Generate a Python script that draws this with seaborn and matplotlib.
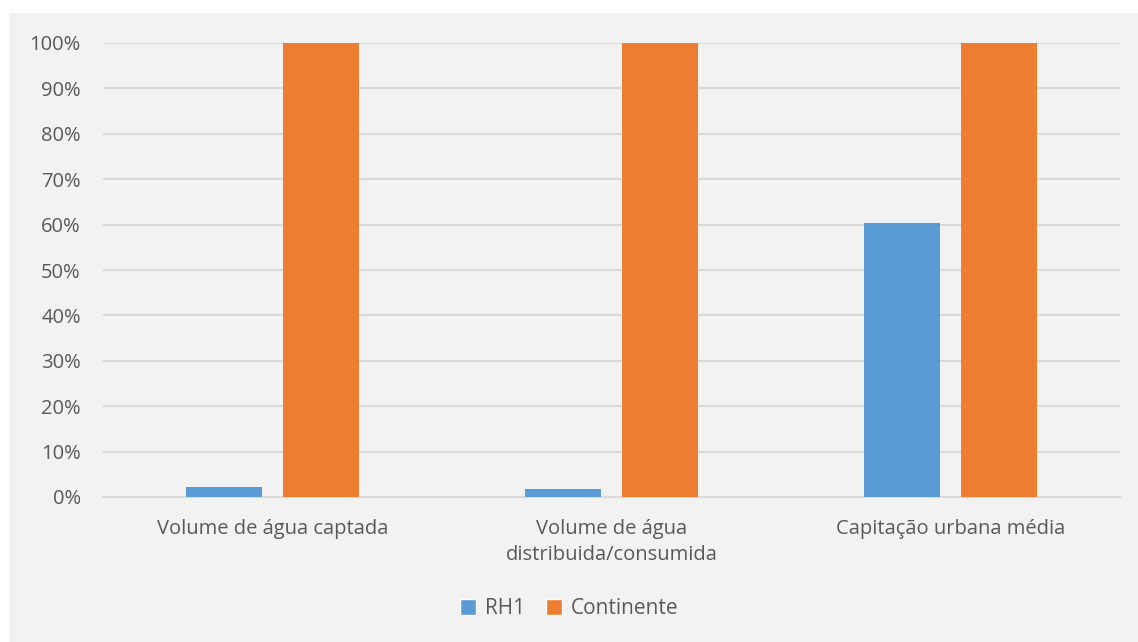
import matplotlib
matplotlib.use("Agg")
import matplotlib.pyplot as plt
from matplotlib.patches import Rectangle
import seaborn as sns
import pandas as pd

categories = ["Volume de água captada", "Volume de água\ndistribuida/consumida", "Capitação urbana média"]
rh1 = [2.2, 1.7, 60.3]
continente = [100, 100, 100]
series_names = ["RH1", "Continente"]
colors = ["#5b9bd5", "#ed7d31"]
yticks = list(range(0, 101, 10))

df = pd.DataFrame({
    "categoria": categories * 2,
    "valor": rh1 + continente,
    "serie": [series_names[0]] * 3 + [series_names[1]] * 3,
})

sns.set_style("white")
plt.rcParams["font.family"] = ["Open Sans", "DejaVu Sans"]

W, H = 1138, 642
fig = plt.figure(figsize=(W / 100, H / 100), dpi=100, facecolor="white")
fig.patches.append(Rectangle((9 / W, 0), 1 - 9 / W, 1 - 13 / H, transform=fig.transFigure,
                             facecolor="#f2f2f2", edgecolor="none", zorder=-10))

ax = fig.add_axes([103 / W, 1 - 497 / H, (1120 - 103) / W, (497 - 43) / H])
ax.set_facecolor("none")

sns.barplot(data=df, x="categoria", y="valor", hue="serie", palette=colors,
            width=0.57, gap=0.214, ax=ax, legend=False, saturation=1, zorder=3,
            linewidth=0, edgecolor="none")

ax.set_ylim(0, 100)
ax.set_xlim(-0.5, 2.5)
ax.set_yticks(yticks)
ax.set_yticklabels([f"{t}%" for t in yticks])
ax.set_xlabel("")
ax.set_ylabel("")
ax.grid(axis="y", color="#d9d9d9", linewidth=1.5, zorder=0)
ax.set_axisbelow(True)
for side in ["top", "right", "left"]:
    ax.spines[side].set_visible(False)
ax.spines["bottom"].set_color("#d9d9d9")
ax.spines["bottom"].set_linewidth(1.5)
ax.tick_params(axis="y", length=0, pad=16, labelsize=14.5, labelcolor="#595959")
ax.tick_params(axis="x", length=0, pad=16, labelsize=14.5, labelcolor="#595959")
for lbl in ax.get_xticklabels():
    lbl.set_linespacing(1.4)

handles = [Rectangle((0, 0), 1, 1, facecolor=c) for c in colors]
fig.legend(handles, series_names, loc="center", bbox_to_anchor=(0.5, 1 - 609 / H), ncol=2,
           frameon=False, fontsize=15, labelcolor="#595959", handlelength=0.8,
           handleheight=0.8, handletextpad=0.4, columnspacing=1.0)

fig.savefig("out.png", dpi=100, facecolor="white")
